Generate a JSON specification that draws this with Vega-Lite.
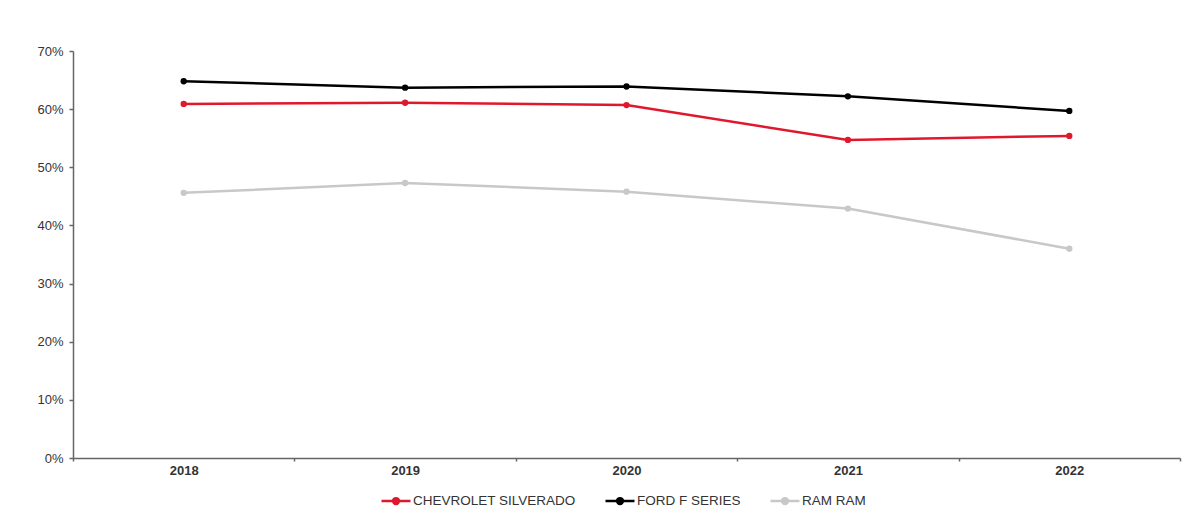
{
  "$schema": "https://vega.github.io/schema/vega-lite/v6.json",
  "width": 1107,
  "height": 407,
  "autosize": {"type": "none"},
  "padding": {"left": 73, "top": 51, "right": 18, "bottom": 56},
  "background": "#ffffff",
  "config": {
    "view": {"stroke": null},
    "font": "Liberation Sans",
    "axis": {"labelFont": "Liberation Sans", "labelFontSize": 13, "labelColor": "#333333", "domainColor": "#666666", "domainWidth": 1.5, "tickColor": "#666666", "tickWidth": 1.5, "grid": false, "title": null}
  },
  "data": {
    "values": [
      {"year": "2018", "brand": "CHEVROLET SILVERADO", "share": 0.609},
      {"year": "2019", "brand": "CHEVROLET SILVERADO", "share": 0.611},
      {"year": "2020", "brand": "CHEVROLET SILVERADO", "share": 0.607},
      {"year": "2021", "brand": "CHEVROLET SILVERADO", "share": 0.547},
      {"year": "2022", "brand": "CHEVROLET SILVERADO", "share": 0.554},
      {"year": "2018", "brand": "FORD F SERIES", "share": 0.648},
      {"year": "2019", "brand": "FORD F SERIES", "share": 0.637},
      {"year": "2020", "brand": "FORD F SERIES", "share": 0.639},
      {"year": "2021", "brand": "FORD F SERIES", "share": 0.622},
      {"year": "2022", "brand": "FORD F SERIES", "share": 0.597},
      {"year": "2018", "brand": "RAM RAM", "share": 0.456},
      {"year": "2019", "brand": "RAM RAM", "share": 0.473},
      {"year": "2020", "brand": "RAM RAM", "share": 0.458},
      {"year": "2021", "brand": "RAM RAM", "share": 0.429},
      {"year": "2022", "brand": "RAM RAM", "share": 0.360}
    ]
  },
  "encoding": {
    "x": {
      "field": "year", "type": "ordinal", "bandPosition": 0.5,
      "scale": {"type": "band", "paddingInner": 0, "paddingOuter": 0},
      "axis": {"tickBand": "extent", "tickSize": 3, "labelPadding": 3, "labelAngle": 0, "labelFontWeight": "bold", "labelColor": "#333333"}
    },
    "y": {
      "field": "share", "type": "quantitative",
      "scale": {"domain": [0, 0.7], "nice": false, "zero": true},
      "axis": {"values": [0, 0.1, 0.2, 0.3, 0.4, 0.5, 0.6, 0.7], "format": ".0%", "tickSize": 4, "labelPadding": 6}
    },
    "color": {
      "field": "brand", "type": "nominal",
      "scale": {"domain": ["CHEVROLET SILVERADO", "FORD F SERIES", "RAM RAM"], "range": ["#e0182d", "#000000", "#c8c8c8"]},
      "legend": {
        "title": null, "orient": "none", "direction": "horizontal", "legendX": 307, "legendY": 434,
        "symbolType": "M-1,0H1M-0.2,0A0.2,0.2,0,1,1,0.2,0A0.2,0.2,0,1,1,-0.2,0",
        "symbolSize": 841, "symbolStrokeWidth": 2.5, "labelFontSize": 13.5, "labelColor": "#333333", "labelFont": "Liberation Sans",
        "labelOffset": 1, "columnPadding": 24, "labelLimit": 400,
        "encode": {"symbols": {"update": {"fill": {"scale": "color", "field": "value"}, "stroke": {"scale": "color", "field": "value"}}}}
      }
    }
  },
  "layer": [
    {"mark": {"type": "line", "strokeWidth": 2.5}},
    {"mark": {"type": "point", "filled": true, "size": 40, "opacity": 1}}
  ]
}
